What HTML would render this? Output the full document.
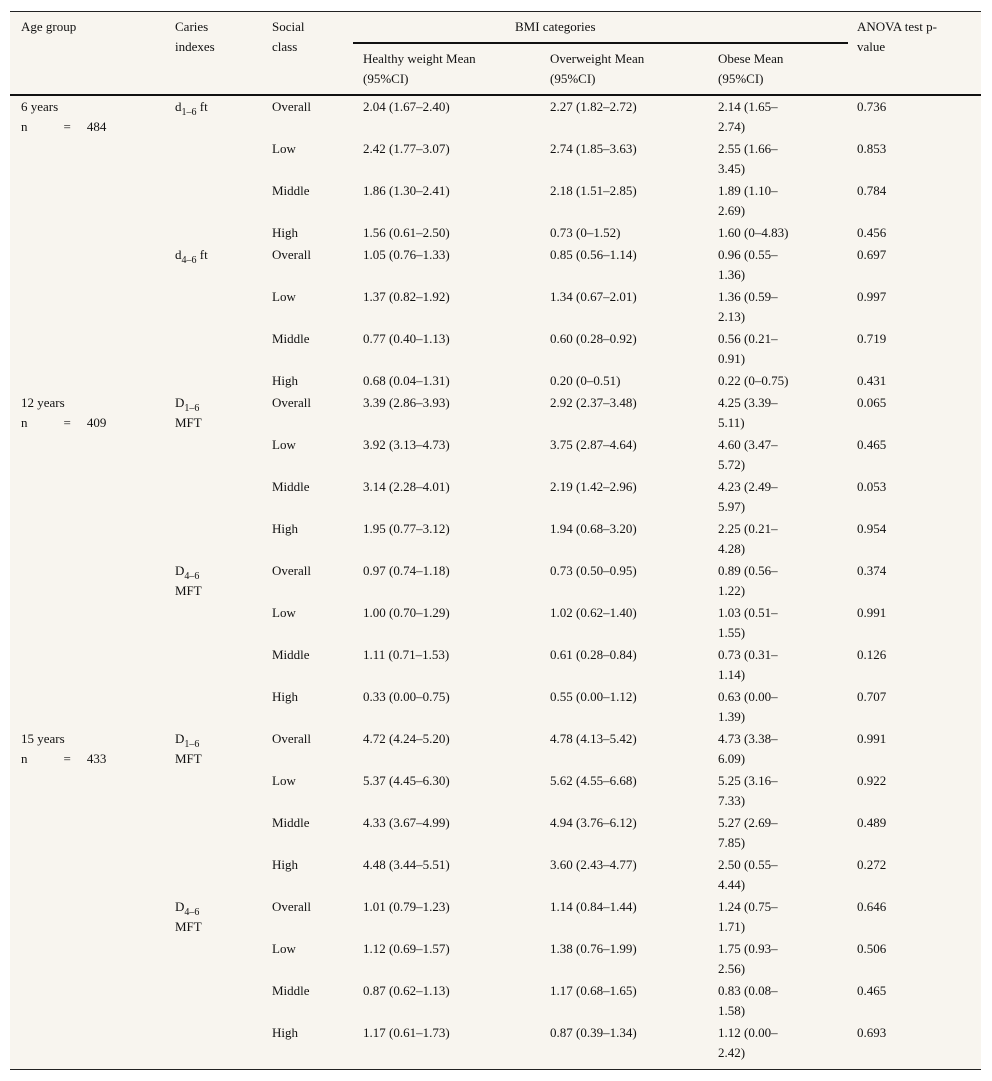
<!DOCTYPE html>
<html><head><meta charset="utf-8"><style>
body{margin:0;background:#fff;width:992px;height:1081px;position:relative;font-family:"Liberation Serif",serif;font-size:13px;color:#111;}
#tbl{position:absolute;left:10px;top:11px;width:971px;height:1057px;background:#f8f5ef;border-top:1px solid #222;border-bottom:1px solid #222;}
.c{position:absolute;line-height:20px;white-space:nowrap;}
.hr{position:absolute;background:#111;}
sub{font-size:10px;vertical-align:-4px;line-height:0;}
</style></head><body>
<div id="tbl"></div>
<script>
const T=document.getElementById('tbl');
const X=[11,165,262,353,540,708,847];
function cell(x,y,html,name){const d=document.createElement('div');d.className='c';d.style.left=x+'px';d.style.top=y+'px';d.innerHTML=html;


T.appendChild(d);}
function line(x,y,w,h,name){const d=document.createElement('div');d.className='hr';d.style.left=x+'px';d.style.top=y+'px';d.style.width=w+'px';d.style.height=h+'px';


T.appendChild(d);}
cell(X[0],5,'Age group','header-age-group');
cell(X[1],5,'Caries<br>indexes','header-caries-indexes');
cell(X[2],5,'Social<br>class','header-social-class');
cell(505,5,'BMI categories','header-bmi-categories');
line(343,30,495,2,'bmi-header-rule');
cell(X[3],37,'Healthy weight Mean<br>(95%CI)','header-healthy');
cell(X[4],37,'Overweight Mean<br>(95%CI)','header-overweight');
cell(X[5],37,'Obese Mean<br>(95%CI)','header-obese');
cell(X[6],5,'ANOVA test p-<br>value','header-anova');
line(0,82,971,2,'header-bottom-rule');
const ages=['6 years','12 years','15 years'];
const ns=['484','409','433'];
const idx=[['d<sub>1–6</sub> ft','d<sub>4–6</sub> ft'],['D<sub>1–6</sub><br>MFT','D<sub>4–6</sub><br>MFT'],['D<sub>1–6</sub><br>MFT','D<sub>4–6</sub><br>MFT']];
const cls=['Overall','Low','Middle','High'];
const healthy=['2.04 (1.67–2.40)','2.42 (1.77–3.07)','1.86 (1.30–2.41)','1.56 (0.61–2.50)','1.05 (0.76–1.33)','1.37 (0.82–1.92)','0.77 (0.40–1.13)','0.68 (0.04–1.31)','3.39 (2.86–3.93)','3.92 (3.13–4.73)','3.14 (2.28–4.01)','1.95 (0.77–3.12)','0.97 (0.74–1.18)','1.00 (0.70–1.29)','1.11 (0.71–1.53)','0.33 (0.00–0.75)','4.72 (4.24–5.20)','5.37 (4.45–6.30)','4.33 (3.67–4.99)','4.48 (3.44–5.51)','1.01 (0.79–1.23)','1.12 (0.69–1.57)','0.87 (0.62–1.13)','1.17 (0.61–1.73)'];
const over=['2.27 (1.82–2.72)','2.74 (1.85–3.63)','2.18 (1.51–2.85)','0.73 (0–1.52)','0.85 (0.56–1.14)','1.34 (0.67–2.01)','0.60 (0.28–0.92)','0.20 (0–0.51)','2.92 (2.37–3.48)','3.75 (2.87–4.64)','2.19 (1.42–2.96)','1.94 (0.68–3.20)','0.73 (0.50–0.95)','1.02 (0.62–1.40)','0.61 (0.28–0.84)','0.55 (0.00–1.12)','4.78 (4.13–5.42)','5.62 (4.55–6.68)','4.94 (3.76–6.12)','3.60 (2.43–4.77)','1.14 (0.84–1.44)','1.38 (0.76–1.99)','1.17 (0.68–1.65)','0.87 (0.39–1.34)'];
const obese=['2.14 (1.65–<br>2.74)','2.55 (1.66–<br>3.45)','1.89 (1.10–<br>2.69)','1.60 (0–4.83)','0.96 (0.55–<br>1.36)','1.36 (0.59–<br>2.13)','0.56 (0.21–<br>0.91)','0.22 (0–0.75)','4.25 (3.39–<br>5.11)','4.60 (3.47–<br>5.72)','4.23 (2.49–<br>5.97)','2.25 (0.21–<br>4.28)','0.89 (0.56–<br>1.22)','1.03 (0.51–<br>1.55)','0.73 (0.31–<br>1.14)','0.63 (0.00–<br>1.39)','4.73 (3.38–<br>6.09)','5.25 (3.16–<br>7.33)','5.27 (2.69–<br>7.85)','2.50 (0.55–<br>4.44)','1.24 (0.75–<br>1.71)','1.75 (0.93–<br>2.56)','0.83 (0.08–<br>1.58)','1.12 (0.00–<br>2.42)'];
const pval=['0.736','0.853','0.784','0.456','0.697','0.997','0.719','0.431','0.065','0.465','0.053','0.954','0.374','0.991','0.126','0.707','0.991','0.922','0.489','0.272','0.646','0.506','0.465','0.693'];
let y=85;
for(let i=0;i<24;i++){
  const a=Math.floor(i/8),k=Math.floor((i%8)/4),r=i%4;
  if(i%8===0){cell(X[0],y,ages[a]+'<br>n<span style="display:inline-block;width:36px"></span>=<span style="display:inline-block;width:16px"></span>'+ns[a],'age-group-'+ages[a].replace(' ','-'));}
  if(r===0){cell(X[1],y,idx[a][k],'caries-index-'+i);}
  cell(X[2],y,cls[r],'social-class-'+i);
  cell(X[3],y,healthy[i],'healthy-'+i);
  cell(X[4],y,over[i],'overweight-'+i);
  cell(X[5],y,obese[i],'obese-'+i);
  cell(X[6],y,pval[i],'pvalue-'+i);
  y+= obese[i].includes('<br>')?42:22;
}
</script>
</body></html>
